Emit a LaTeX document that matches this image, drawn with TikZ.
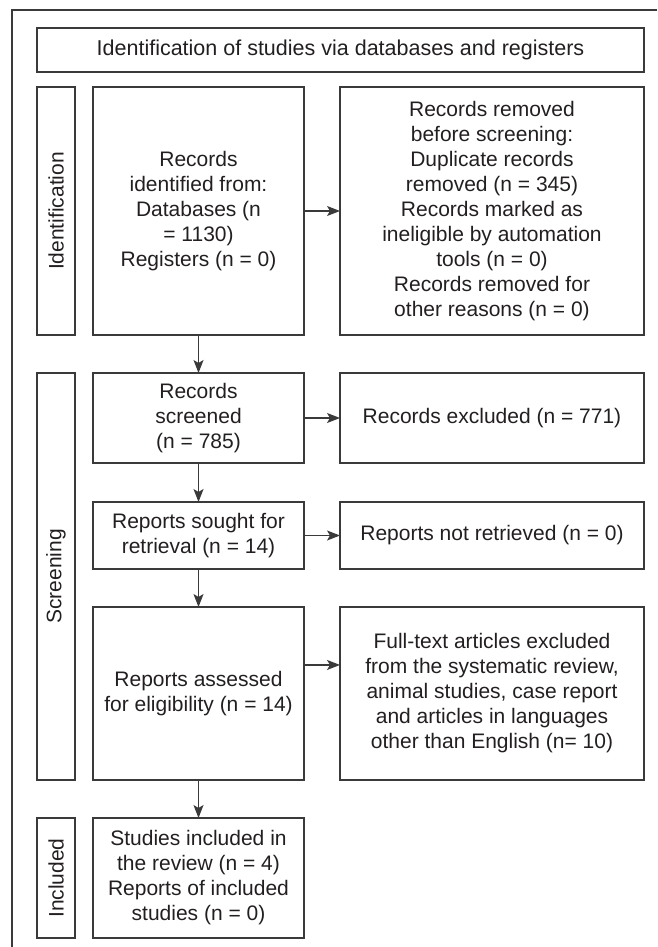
\documentclass[tikz,border=0pt]{standalone}
\usepackage{fontspec}
\setmainfont{Liberation Sans}
\usetikzlibrary{arrows.meta,calc}
\definecolor{ink}{HTML}{231F20}
\definecolor{edge}{HTML}{3A3A3A}
\begin{document}
\begin{tikzpicture}[x=1pt,y=-1pt,
  box/.style={draw=edge,line width=1.1pt,rectangle,inner sep=0pt,outer sep=0pt,
    align=center,text=ink,font=\fontsize{21}{25}\selectfont},
  side/.style={text=ink,font=\fontsize{21}{25}\selectfont,rotate=90,inner sep=0pt},
  arr/.style={draw=edge,line width=1.1pt,-{Stealth[length=13pt,width=10pt,inset=3pt]}},
  frameline/.style={draw=edge,line width=1.1pt}]
\useasboundingbox (0,0) rectangle (657,947);
\draw[frameline] (12,947) -- (12,10) -- (657,10);
% title
\node[box,minimum width=607pt,minimum height=44pt,font=\fontsize{21.5}{25}\selectfont] (title) at (340.5,50) {Identification of studies via databases and registers};
% side labels
\node[box,minimum width=38pt,minimum height=248pt] (lid) at (56,211) {};
\node[side] (lidt) at (lid.center) {Identification};
\node[box,minimum width=38pt,minimum height=407pt] (lscr) at (56,576.5) {};
\node[side] (lscrt) at (lscr.center) {Screening};
\node[box,minimum width=38pt,minimum height=120pt] (linc) at (56,878) {};
\node[side] (linct) at (linc.center) {Included};
% left column
\node[box,minimum width=211pt,minimum height=248pt] (rid) at (198.5,211) {Records\\identified from:\\Databases (n\\= 1130)\\Registers (n = 0)};
\node[box,minimum width=211pt,minimum height=90pt] (rscr) at (198.5,418) {Records\\screened\\(n = 785)};
\node[box,minimum width=211pt,minimum height=67pt] (rsou) at (198.5,535.5) {Reports sought for\\retrieval (n = 14)};
\node[box,minimum width=211pt,minimum height=173pt] (rass) at (198.5,693.5) {Reports assessed\\for eligibility (n = 14)};
\node[box,minimum width=211pt,minimum height=120pt] (rinc) at (198.5,878) {Studies included in\\the review (n = 4)\\Reports of included\\studies (n = 0)};
% right column
\node[box,minimum width=304pt,minimum height=248pt] (rrem) at (492,211) {Records removed\\before screening:\\Duplicate records\\removed (n = 345)\\Records marked as\\ineligible by automation\\tools (n = 0)\\Records removed for\\other reasons (n = 0)};
\node[box,minimum width=304pt,minimum height=90pt] (rexc) at (492,418) {Records excluded (n = 771)};
\node[box,minimum width=304pt,minimum height=67pt] (rnot) at (492,535.5) {Reports not retrieved (n = 0)};
\node[box,minimum width=304pt,minimum height=173pt] (rful) at (492,693.5) {Full-text articles excluded\\from the systematic review,\\animal studies, case report\\and articles in languages\\other than English (n= 10)};
% connectors
\draw[arr] (rid.east) -- (rrem.west);
\draw[arr] (rscr.east) -- (rexc.west);
\draw[arr] (rsou.east) -- (rnot.west);
\coordinate (assout) at ($(rass.north east)!0.335!(rass.south east)$);
\draw[arr] (assout) -- (assout -| rful.west);
\draw[arr] (rid.south) -- (rscr.north);
\draw[arr] (rscr.south) -- (rsou.north);
\draw[arr] (rsou.south) -- (rass.north);
\draw[arr] (rass.south) -- (rinc.north);
\end{tikzpicture}
\end{document}
